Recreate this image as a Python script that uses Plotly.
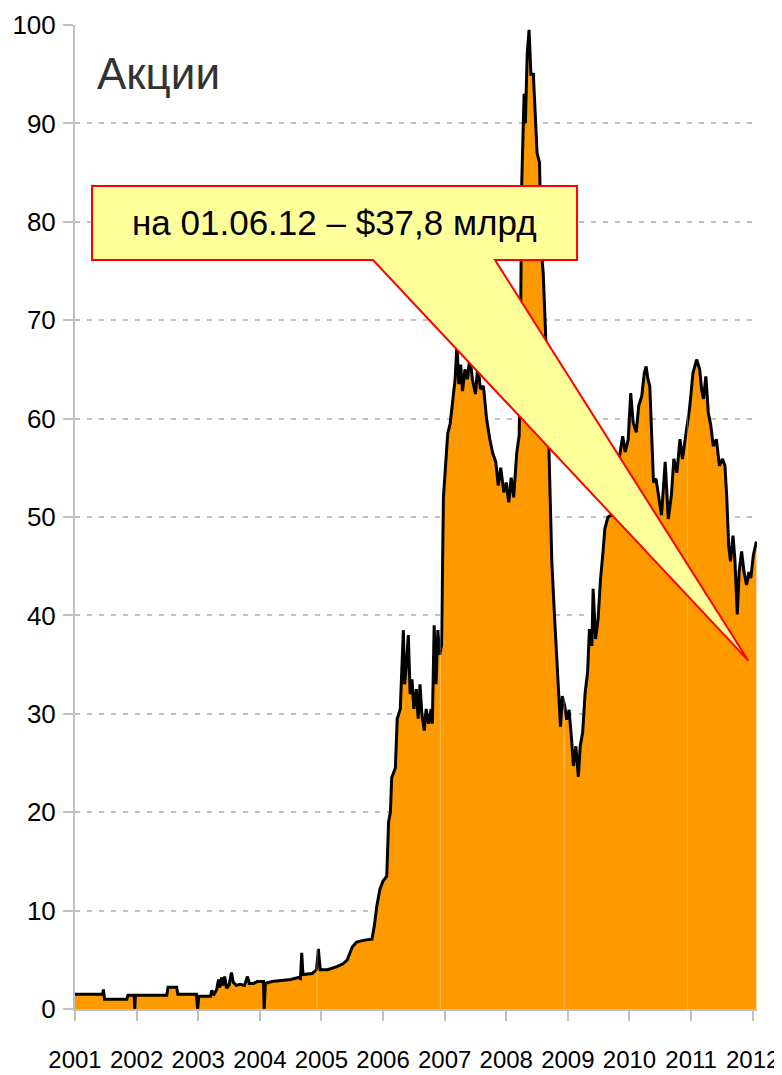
import plotly.graph_objects as go

# ---- data (year fraction, value in $ bn) ----
years = [2001.00, 2001.45, 2001.46, 2001.48, 2001.84, 2001.86, 2001.96, 2001.97, 2001.98, 2002.49,
         2002.51, 2002.65, 2002.67, 2002.97, 2002.99, 2003.01, 2003.20, 2003.22, 2003.25, 2003.30,
         2003.33, 2003.35, 2003.38, 2003.40, 2003.43, 2003.46, 2003.50, 2003.54, 2003.57, 2003.62,
         2003.68, 2003.75, 2003.80, 2003.83, 2003.90, 2003.96, 2004.06, 2004.07, 2004.09, 2004.20,
         2004.35, 2004.50, 2004.62, 2004.66, 2004.68, 2004.70, 2004.85, 2004.92, 2004.95, 2004.98,
         2005.10, 2005.25, 2005.35, 2005.42, 2005.50, 2005.57, 2005.70, 2005.82, 2005.86, 2005.90,
         2005.95, 2006.00, 2006.06, 2006.09, 2006.12, 2006.14, 2006.20, 2006.23, 2006.28, 2006.31,
         2006.33, 2006.35, 2006.38, 2006.41, 2006.44, 2006.47, 2006.50, 2006.54, 2006.57, 2006.60,
         2006.63, 2006.67, 2006.70, 2006.74, 2006.78, 2006.80, 2006.83, 2006.86, 2006.89, 2006.92,
         2006.95, 2006.98, 2007.01, 2007.05, 2007.09, 2007.13, 2007.17, 2007.20, 2007.23, 2007.26,
         2007.29, 2007.33, 2007.37, 2007.41, 2007.45, 2007.50, 2007.54, 2007.58, 2007.63, 2007.68,
         2007.73, 2007.78, 2007.83, 2007.87, 2007.91, 2007.96, 2008.00, 2008.04, 2008.08, 2008.12,
         2008.17, 2008.21, 2008.23, 2008.25, 2008.27, 2008.29, 2008.31, 2008.34, 2008.37, 2008.40,
         2008.44, 2008.47, 2008.50, 2008.54, 2008.57, 2008.60, 2008.64, 2008.68, 2008.71, 2008.74,
         2008.78, 2008.82, 2008.85, 2008.88, 2008.91, 2008.95, 2008.98, 2009.02, 2009.06, 2009.09,
         2009.13, 2009.17, 2009.20, 2009.24, 2009.28, 2009.32, 2009.35, 2009.39, 2009.41, 2009.45,
         2009.49, 2009.53, 2009.57, 2009.60, 2009.65, 2009.71, 2009.75, 2009.79, 2009.84, 2009.89,
         2009.93, 2009.98, 2010.02, 2010.06, 2010.11, 2010.15, 2010.20, 2010.24, 2010.27, 2010.30,
         2010.33, 2010.36, 2010.39, 2010.43, 2010.47, 2010.52, 2010.58, 2010.63, 2010.68, 2010.72,
         2010.77, 2010.82, 2010.86, 2010.90, 2010.95, 2010.98, 2011.03, 2011.06, 2011.09, 2011.14,
         2011.17, 2011.20, 2011.24, 2011.28, 2011.32, 2011.36, 2011.41, 2011.46, 2011.51, 2011.55,
         2011.58, 2011.61, 2011.64, 2011.68, 2011.71, 2011.75, 2011.78, 2011.82, 2011.86, 2011.90,
         2011.94, 2011.97, 2012.01, 2012.06]
values = [1.5, 1.5, 2.0, 1.0, 1.0, 1.4, 1.4, 0.0, 1.4, 1.4,
          2.2, 2.2, 1.5, 1.5, 0.0, 1.3, 1.3, 1.9, 1.4, 2.0,
          3.0, 2.2, 3.2, 2.4, 3.3, 2.1, 2.4, 3.7, 2.7, 2.4,
          2.5, 2.4, 3.3, 2.6, 2.6, 2.8, 2.8, 0.0, 2.6, 2.8,
          2.9, 3.0, 3.2, 3.1, 5.7, 3.5, 3.6, 4.0, 6.1, 4.0,
          4.0, 4.3, 4.6, 5.0, 6.3, 6.8, 7.0, 7.1, 8.5, 10.5,
          12.2, 13.0, 13.5, 19.0, 20.0, 23.5, 24.5, 29.5, 30.5, 36.5,
          38.5, 33.0, 35.0, 38.0, 32.0, 33.5, 30.5, 32.5, 29.5, 33.0,
          30.0, 28.3, 30.5, 29.0, 30.5, 29.0, 39.0, 33.0, 38.5, 36.0,
          37.0, 52.0, 55.0, 58.5, 59.5, 61.5, 64.0, 67.5, 63.5, 65.5,
          62.8, 65.0, 64.0, 66.3, 64.0, 62.5, 65.5, 63.0, 63.3, 60.0,
          58.0, 56.5, 55.6, 53.2, 55.0, 52.5, 53.5, 51.5, 54.0, 52.0,
          56.5, 58.3, 66.7, 83.6, 88.0, 93.0, 90.0, 97.0, 99.5, 95.0,
          95.0, 91.4, 87.0, 86.0, 77.0, 74.8, 68.4, 60.0, 52.0, 45.4,
          40.3, 35.2, 31.8, 28.7, 31.8, 30.8, 29.4, 30.4, 27.4, 24.7,
          26.7, 23.6, 26.7, 28.1, 32.1, 34.2, 38.6, 36.9, 42.7, 37.6,
          39.6, 43.7, 46.4, 48.8, 50.0, 50.2, 50.5, 51.9, 56.2, 58.2,
          56.6, 57.9, 62.6, 59.6, 58.6, 61.3, 62.3, 64.6, 65.3, 64.0,
          63.3, 57.2, 53.5, 53.9, 52.2, 50.2, 55.6, 49.8, 52.2, 55.9,
          54.5, 57.9, 55.9, 57.9, 60.3, 61.3, 64.6, 65.3, 66.0, 65.0,
          63.0, 62.0, 64.3, 60.6, 59.3, 57.2, 57.9, 55.2, 55.9, 55.2,
          51.9, 47.1, 45.5, 48.1, 45.8, 40.1, 44.4, 46.5, 44.4, 43.1,
          44.4, 43.8, 46.1, 47.5]

tick_years = [2001, 2002, 2003, 2004, 2005, 2006, 2007, 2008, 2009, 2010, 2011, 2012]
tick_labels = [str(y) for y in tick_years]
y_ticks = [0, 10, 20, 30, 40, 50, 60, 70, 80, 90, 100]

title_text = "Акции"
callout_text = "на 01.06.12 – $37,8 млрд"
callout_tip = (2011.93, 35.4)

FONT = "Liberation Sans, Arial, sans-serif"

fig = go.Figure()
fig.add_trace(go.Scatter(
    x=years, y=values, mode="lines", fill="tozeroy",
    fillcolor="#FF9900", line=dict(color="#000000", width=3),
    hoverinfo="skip", showlegend=False,
))

shapes = []
# faint separators inside the area
for sx in [2004.93, 2006.93, 2008.94, 2010.94]:
    shapes.append(dict(type="line", xref="x", yref="paper", x0=sx, x1=sx, y0=0, y1=1,
                       line=dict(color="rgba(255,255,255,0.35)", width=1), layer="above"))

# callout box with pointer
bx0, bx1, by0, by1 = 2001.276, 2009.149, 76.12, 83.64
px0, px1 = 2005.838, 2007.818
tx, ty = callout_tip
path = (f"M {bx0},{by1} L {bx1},{by1} L {bx1},{by0} L {px1},{by0} "
        f"L {tx},{ty} L {px0},{by0} L {bx0},{by0} Z")
shapes.append(dict(type="path", xref="x", yref="y", path=path,
                   fillcolor="#FFFF99", line=dict(color="#FF0000", width=2), layer="above"))

annotations = [
    dict(text=title_text, xref="paper", yref="paper", x=0.03, y=0.951,
         xanchor="left", yanchor="middle", showarrow=False,
         font=dict(family=FONT, size=44, color="#333333")),
    dict(text=callout_text, xref="x", yref="y", x=(bx0 + bx1) / 2, y=(by0 + by1) / 2,
         xanchor="center", yanchor="middle", showarrow=False,
         font=dict(family=FONT, size=35, color="#000000")),
]

fig.update_layout(
    width=774, height=1067,
    margin=dict(l=67, r=25, t=17, b=66),
    paper_bgcolor="white", plot_bgcolor="white",
    shapes=shapes, annotations=annotations,
    font=dict(family=FONT, size=26, color="#000000"),
    xaxis=dict(range=[2001, 2012.07], tickvals=tick_years, ticktext=tick_labels,
               automargin=False, tickangle=0,
               showgrid=False, zeroline=False, showline=True, linecolor="#c0c0c0", linewidth=2,
               ticks="outside", ticklen=10, tickwidth=2, tickcolor="#c0c0c0",
               ticklabelstandoff=18,
               tickfont=dict(family=FONT, size=24, color="#000000")),
    yaxis=dict(range=[0, 100], tickvals=y_ticks, automargin=False,
               showgrid=True, gridcolor="#c0c0c0", gridwidth=2, griddash="5px,7px",
               zeroline=False, showline=True, linecolor="#c0c0c0", linewidth=2,
               ticks="outside", ticklen=10, tickwidth=2, tickcolor="#c0c0c0",
               ticklabelstandoff=2,
               tickfont=dict(family=FONT, size=26, color="#000000")),
)

fig.write_html("out.html")
